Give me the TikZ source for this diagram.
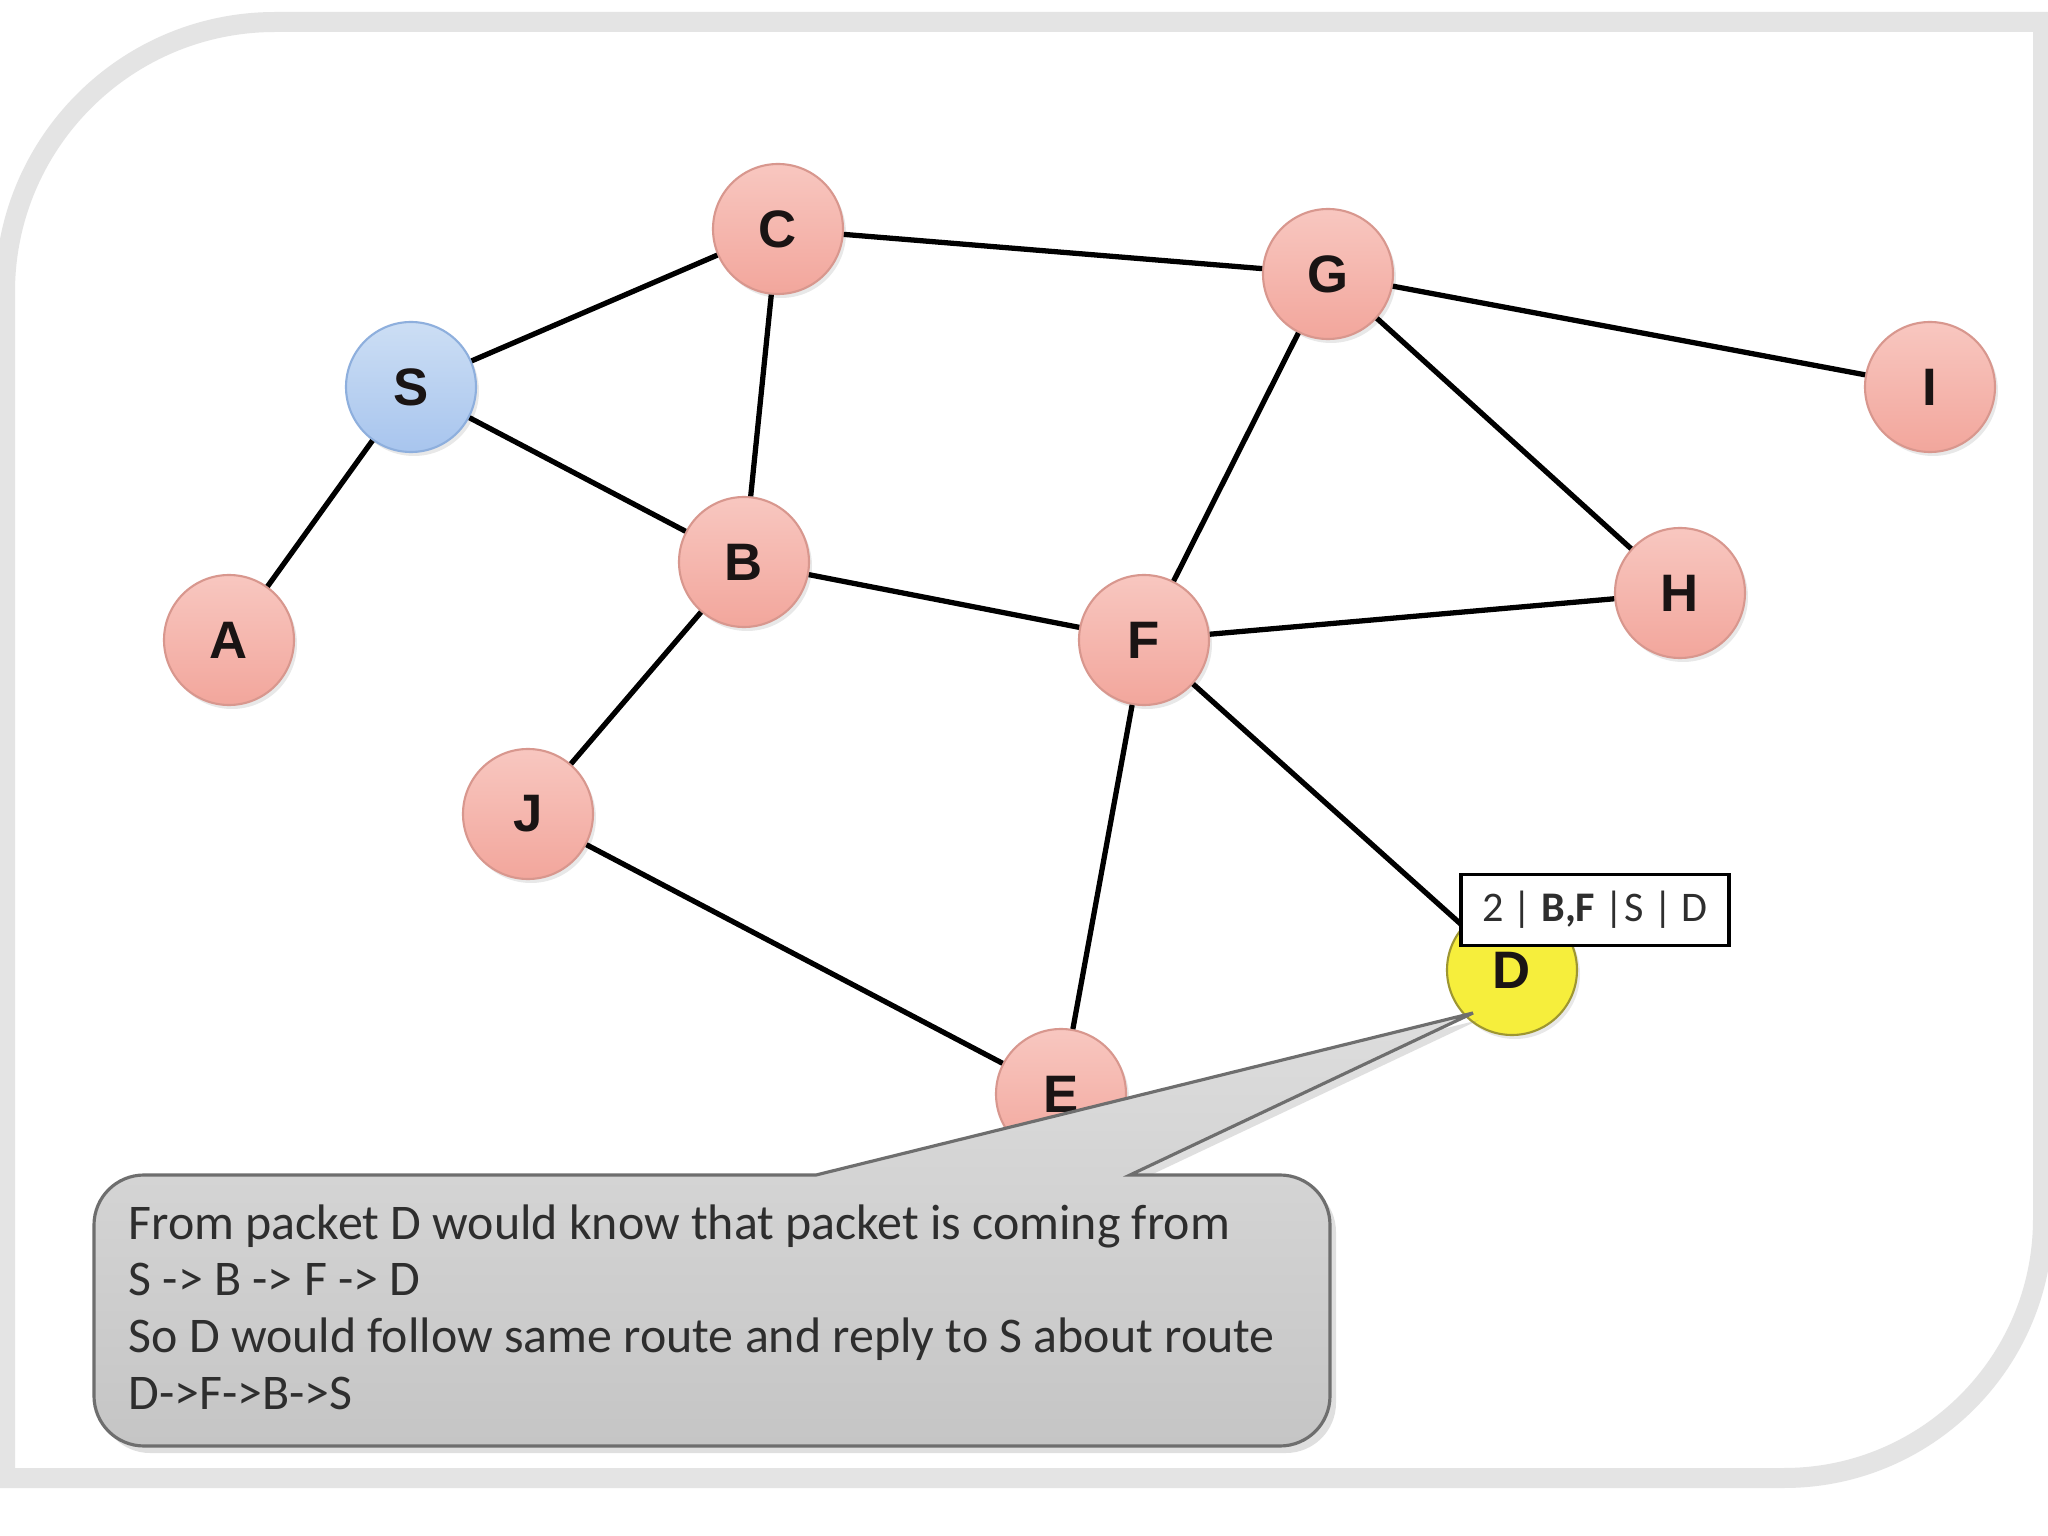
\documentclass[tikz,border=0pt]{standalone}
\usepackage{fontspec}
\setmainfont{Carlito}
\newfontfamily\letterfont{Liberation Sans}
\usepackage{tikz}
\usetikzlibrary{positioning,calc,shadows}
\definecolor{ink}{HTML}{1A1414}
\definecolor{peachtop}{HTML}{F8C7C0}
\definecolor{peachbot}{HTML}{F2A69C}
\definecolor{peachrim}{HTML}{D8978E}
\definecolor{skytop}{HTML}{CCDEF4}
\definecolor{skybot}{HTML}{A8C5EE}
\definecolor{skyrim}{HTML}{8EAFDD}
\definecolor{lemon}{HTML}{F6EE3C}
\definecolor{lemonrim}{HTML}{9E9631}
\definecolor{fogtop}{HTML}{DDDDDD}
\definecolor{fogbot}{HTML}{C5C5C5}
\definecolor{fogrim}{HTML}{6E6E6E}
\definecolor{note}{HTML}{2E2E2E}
\definecolor{frameband}{HTML}{E4E4E4}
\tikzset{
  peer/.style={circle,minimum size=1.3cm,inner sep=0pt,draw=peachrim,line width=0.6pt,
    top color=peachtop,bottom color=peachbot,text=ink,
    font=\letterfont\bfseries\fontsize{15}{18}\selectfont,
    drop shadow={shadow xshift=0.03cm,shadow yshift=-0.04cm,opacity=0.18}},
  source/.style={peer,draw=skyrim,top color=skytop,bottom color=skybot},
  target/.style={peer,draw=lemonrim,top color=lemon,bottom color=lemon},
  link/.style={line width=1.5pt,black},
  header/.style={draw=black,line width=1.1pt,fill=white,text=note,
    minimum width=2.68cm,minimum height=0.71cm,inner sep=0pt,
    font=\fontsize{12}{15}\selectfont},
  bubble/.style={draw=fogrim,line width=0.9pt,top color=fogtop,bottom color=fogbot,
    drop shadow={shadow xshift=0.06cm,shadow yshift=-0.07cm,opacity=0.25}}
}
\begin{document}
\begin{tikzpicture}
  \useasboundingbox (0,0) rectangle (20.48,-15.36);
  % slide frame
  \fill[white] (0,0) rectangle (20.48,-15.36);
  \draw[frameband,line width=0.2cm,fill=white] (0.05,-14.78) -- (0.05,-2.92)
    arc[start angle=180,end angle=90,radius=2.7] -- (20.43,-0.22) -- (20.43,-12.19)
    arc[start angle=0,end angle=-90,radius=2.59] -- cycle;
  % network
  \foreach \n/\x/\y in {C/7.78/-2.29,G/13.28/-2.74,I/19.30/-3.87,B/7.44/-5.62,H/16.80/-5.93,
                        A/2.29/-6.40,F/11.44/-6.40,J/5.28/-8.14,E/10.61/-10.94}
    \node[peer] (\n) at (\x,\y) {\n};
  \node[source] (S) at (4.11,-3.87) {S};
  \node[target] (D) at (15.12,-9.70) {D};
  \foreach \a/\b in {S/C,S/A,S/B,C/B,C/G,G/I,G/F,G/H,B/F,B/J,F/H,F/D,F/E,J/E}
    \draw[link] (\a) -- (\b);
  % route record
  \node[header] (hdr) at ($(D)+(0.83,0.60)$) {2 | \textbf{B,F} |S | D\hspace{0.12cm}};
  % callout
  \coordinate (tip) at ($(D)+(-0.39,-0.43)$);
  \path[bubble] (8.16,-11.75) -- (tip) -- (11.30,-11.75) -- (12.80,-11.75)
    arc[start angle=90,end angle=0,radius=0.5] -- (13.30,-13.96)
    arc[start angle=0,end angle=-90,radius=0.5] -- (1.44,-14.46)
    arc[start angle=270,end angle=180,radius=0.5] -- (0.94,-12.25)
    arc[start angle=180,end angle=90,radius=0.5] -- cycle;
  \node[anchor=north west,inner sep=0pt,align=left,text=note,
        font=\fontsize{14.2}{16.1}\selectfont] (msg) at (1.28,-12.04)
    {From packet D would know that packet is coming from\\
     S -> B -> F -> D\\
     So D would follow same route and reply to S about route\\
     D->F->B->S};
\end{tikzpicture}
\end{document}
